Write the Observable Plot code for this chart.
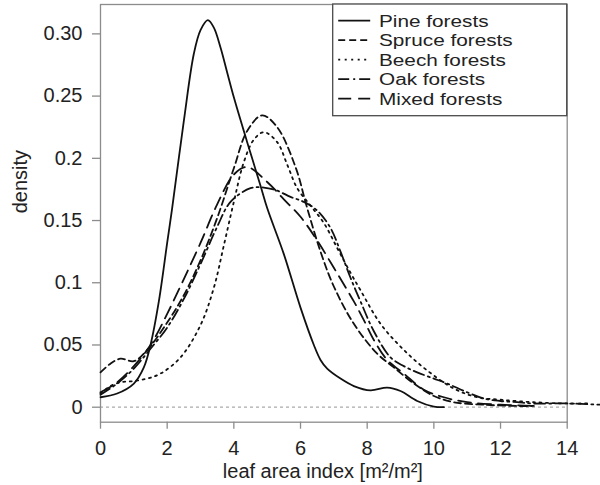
<!DOCTYPE html>
<html><head><meta charset="utf-8">
<script src="https://cdn.jsdelivr.net/npm/d3@7"></script>
<script src="https://cdn.jsdelivr.net/npm/@observablehq/plot@0.6"></script>
<style>
body{margin:0;background:#fff;}
#wrap{position:relative;width:600px;height:485px;font-family:"Liberation Sans",Arial,sans-serif;}
</style>
</head><body><div id="wrap"></div>
<script>
// ---- data ----
const seriesNames = ["Pine forests","Spruce forests","Beech forests","Oak forests","Mixed forests"];
const seriesDash  = ["none","7 4","2 4.5","11 4 2 4","13 7"];

const pineX  = [0,0.5,1,1.3,1.5,1.75,2,2.15,2.5,2.8,3,3.22,3.4,3.6,3.8,4,4.4,4.8,5,5.5,6,6.4,6.6,6.8,7.2,7.6,8.1,8.6,9,9.5,10,10.3];
const pineY  = [0.008,0.011,0.019,0.032,0.05,0.085,0.132,0.16,0.23,0.284,0.303,0.311,0.305,0.289,0.269,0.249,0.213,0.178,0.16,0.123,0.08,0.05,0.038,0.031,0.023,0.017,0.0135,0.0158,0.013,0.005,0.0005,0];

const spruceX = [0,0.3,0.6,1,1.4,2,2.5,3,3.5,4,4.4,4.85,5.3,5.85,6.2,6.6,7,7.6,8.3,8.8,9.4,10,10.6,11.5,12.5,13];
const spruceY = [0.028,0.035,0.039,0.037,0.046,0.068,0.09,0.118,0.152,0.192,0.222,0.2345,0.225,0.193,0.16,0.125,0.097,0.067,0.043,0.032,0.019,0.009,0.004,0.002,0.001,0.001];

const beechX = [0,0.3,0.6,1,1.4,1.8,2.4,3,3.4,3.7,4,4.3,4.6,4.9,5.3,5.6,5.9,6.3,6.7,7.1,7.5,7.8,8.4,9.1,9.8,10.6,11.3,12,13,14,14.6];
const beechY = [0.011,0.017,0.02,0.021,0.023,0.027,0.04,0.066,0.096,0.13,0.165,0.197,0.215,0.221,0.213,0.195,0.176,0.162,0.148,0.128,0.108,0.094,0.067,0.046,0.0295,0.015,0.008,0.006,0.004,0.003,0.003];

const oakX = [0,0.5,1,1.5,2,2.5,3,3.5,3.9,4.5,4.9,5.3,5.7,6.1,6.5,6.9,7.2,7.5,7.8,8.2,8.7,9.1,9.5,10,10.4,11,11.5,12,12.5,13,14,15];
const oakY = [0.01,0.019,0.031,0.047,0.064,0.087,0.115,0.145,0.165,0.176,0.1765,0.174,0.169,0.165,0.158,0.144,0.125,0.104,0.085,0.061,0.04,0.033,0.028,0.023,0.019,0.012,0.007,0.005,0.004,0.003,0.003,0.002];

const mixedX = [0,0.5,1,1.5,2,2.5,3,3.5,4,4.4,5,5.5,6,6.5,7,7.6,7.9,8.2,8.6,9.1,9.7,10.3,11,12,13];
const mixedY = [0.012,0.02,0.033,0.05,0.075,0.103,0.132,0.163,0.187,0.193,0.181,0.167,0.153,0.134,0.112,0.085,0.07,0.054,0.038,0.027,0.014,0.008,0.004,0.002,0.001];

const xTicks = [0,2,4,6,8,10,12,14];
const yTicks = [0,0.05,0.1,0.15,0.2,0.25,0.3];
const yTickLabels = ["0","0.05","0.1","0.15","0.2","0.25","0.30"];
const xLabel = "leaf area index [m²/m²]";
const yLabel = "density";

// ---- build ----
const seriesX = [pineX, spruceX, beechX, oakX, mixedX];
const seriesY = [pineY, spruceY, beechY, oakY, mixedY];
const tables = seriesX.map((xs, s) => xs.map((x, i) => ({x, y: seriesY[s][i]})));
const yLabelMap = new Map(yTicks.map((t, i) => [t, yTickLabels[i]]));

const ink = "#111";
const grey = "#8c8c8c";

const chart = Plot.plot({
  width: 600, height: 485,
  marginLeft: 100, marginRight: 33.3, marginTop: 4, marginBottom: 63.3,
  style: {fontFamily: "'Liberation Sans', Arial, sans-serif", fontSize: "20px", color: "#222", background: "#fff", overflow: "visible"},
  x: {domain: [0, 14]},
  y: {domain: [-0.01205, 0.3236]},
  marks: [
    Plot.ruleY([0], {stroke: "#aaa", strokeDasharray: "3 3", strokeWidth: 1.2}),
    Plot.frame({stroke: grey, strokeWidth: 1.3}),
    Plot.axisX({ticks: xTicks, tickSize: 7, tickPadding: 12, stroke: grey, strokeWidth: 1.3, label: null}),
    Plot.axisY({ticks: yTicks, tickFormat: d => yLabelMap.get(d), tickSize: 8, tickPadding: 10, stroke: grey, strokeWidth: 1.3, label: null}),
    Plot.text([xLabel], {frameAnchor: "bottom", lineAnchor: "bottom", dy: 55.3, dx: -11, fontSize: 20, fill: "#222"}),
    Plot.text([yLabel], {frameAnchor: "left", rotate: -90, lineAnchor: "middle", dx: -80, fontSize: 20, fill: "#222"}),
    ...tables.map((t, s) => Plot.line(t, {x: "x", y: "y", curve: "catmull-rom", stroke: ink, strokeWidth: 1.8,
      strokeDasharray: seriesDash[s] === "none" ? null : seriesDash[s]}))
  ]
});
document.getElementById("wrap").appendChild(chart);

// ---- legend (inside the frame, top-right) ----
const sx = chart.scale("x"), sy = chart.scale("y");
const boxRight = sx.apply(14), boxTop = sy.apply(sy.domain[1]);
const boxW = 234, rowH = 19.5, boxH = 111.7;
const boxLeft = boxRight - boxW;
const svg = d3.select(chart);
const lg = svg.append("g").attr("transform", `translate(${boxLeft},${boxTop})`);
lg.append("rect").attr("width", boxW).attr("height", boxH).attr("fill", "#fff").attr("stroke", "#4a4a4a").attr("stroke-width", 1.3);
seriesNames.forEach((name, i) => {
  const cy = 16.7 + i * rowH;
  lg.append("line").attr("x1", 5.5).attr("x2", 37.5).attr("y1", cy).attr("y2", cy)
    .attr("stroke", ink).attr("stroke-width", 1.8)
    .attr("stroke-dasharray", seriesDash[i] === "none" ? null : seriesDash[i]);
  lg.append("text").attr("transform", `translate(46.3,${cy}) scale(1.2,1)`).attr("dy", "0.36em")
    .attr("text-anchor", "start")
    .attr("font-size", 17.3).attr("fill", "#222").text(name);
});
</script></body></html>
